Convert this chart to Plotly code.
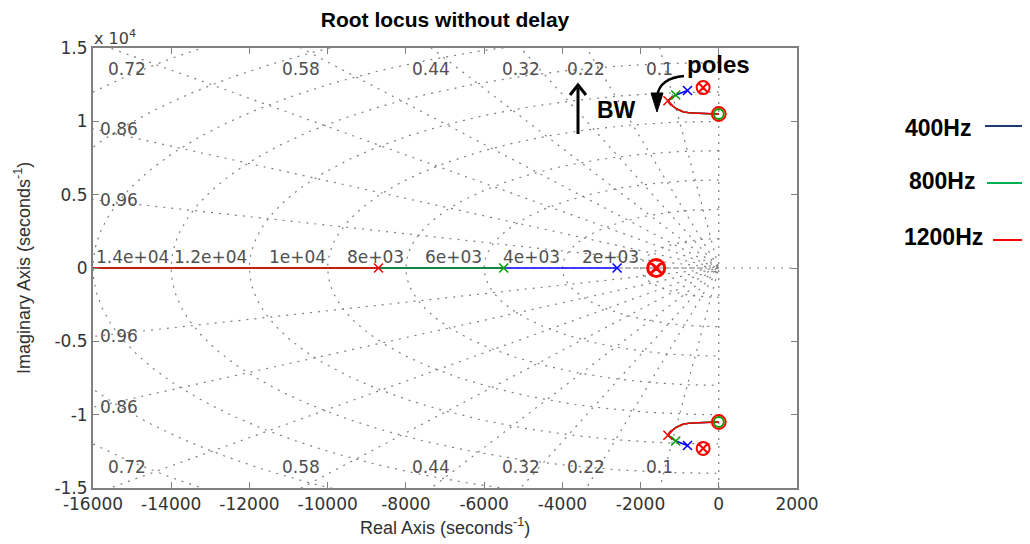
import numpy as np
import plotly.graph_objects as go

# ---------------- data ----------------
band_names = ["400Hz", "800Hz", "1200Hz"]
band_colors = ["#0000ff", "#00a000", "#ff0000"]
legend_colors = ["#1f3a73", "#00b050", "#ff0000"]

# closed-loop poles on the real axis (one per band)
real_cl_poles = [-2600, -5500, -8700]
real_locus_end = -16200

# closed-loop complex poles (upper half; lower half mirrored)
cplx_cl_re = [-800, -1100, -1300]
cplx_cl_im = [12100, 11800, 11400]

# shared tail of the complex branch (from the 1200Hz pole towards the zero)
branch_re = [-1300, -1250, -1070, -900, -680, -150, 0]
branch_im = [11400, 11180, 10840, 10640, 10560, 10500, 10500]

# open-loop poles and zeros
ol_pole_re = [-1600, -400, -400]
ol_pole_im = [0, 12300, -12300]
ol_zero_re = [0, 0]
ol_zero_im = [10500, -10500]

# s-plane grid
zeta_vals = [0.1, 0.22, 0.32, 0.44, 0.58, 0.72, 0.86, 0.96]
zeta_labels = ["0.1", "0.22", "0.32", "0.44", "0.58", "0.72", "0.86", "0.96"]
wn_vals = [2000, 4000, 6000, 8000, 10000, 12000, 14000, 16000, 18000, 20000]
wn_labels = ["2e+03", "4e+03", "6e+03", "8e+03", "1e+04", "1.2e+04", "1.4e+04"]

x_ticks = [-16000, -14000, -12000, -10000, -8000, -6000, -4000, -2000, 0, 2000]
x_ticktext = ["-16000", "-14000", "-12000", "-10000", "-8000", "-6000", "-4000", "-2000", "0", "2000"]
y_ticks = [-15000, -10000, -5000, 0, 5000, 10000, 15000]
y_ticktext = ["-1.5", "-1", "-0.5", "0", "0.5", "1", "1.5"]

XMIN, XMAX, YMIN, YMAX = -16000, 2000, -15000, 15000

# ---------------- layout constants ----------------
OFF = 8                      # page body margin of the html page
W, H = 1030 - OFF, 544 - OFF
PL, PR, PT, PB = 93, 797, 48, 488      # plot frame in page pixels
ML, MR, MT, MB = PL - OFF, (W + OFF) - PR, PT - OFF, (H + OFF) - PB
PW, PH = PR - PL, PB - PT
FONT = "Liberation Sans, Arial, sans-serif"
TFONT = "DejaVu Sans, sans-serif"
GRID_COL = "#7f7f7f"
GRID_DASH = "2px,6px"


def px2paper_x(px):
    return (px - PL) / PW


def px2paper_y(py):
    return (PB - py) / PH


def px2dx(px):
    return XMIN + (px - PL) / PW * (XMAX - XMIN)


def px2dy(py):
    return YMAX - (py - PT) / PH * (YMAX - YMIN)


fig = go.Figure()

# ---- grid: frequency circles
theta = np.linspace(np.pi / 2, 3 * np.pi / 2, 241)
for wn in wn_vals:
    fig.add_trace(go.Scatter(x=wn * np.cos(theta), y=wn * np.sin(theta), mode="lines",
                             line=dict(color=GRID_COL, width=1.2, dash=GRID_DASH),
                             hoverinfo="skip", showlegend=False))
# ---- grid: damping rays
R = 40000
for z in zeta_vals:
    s = np.sqrt(1 - z * z)
    fig.add_trace(go.Scatter(x=[-R * z, 0, -R * z], y=[R * s, 0, -R * s], mode="lines",
                             line=dict(color=GRID_COL, width=1.2, dash=GRID_DASH),
                             hoverinfo="skip", showlegend=False))
fig.add_trace(go.Scatter(x=[XMIN, XMAX], y=[0, 0], mode="lines",
                         line=dict(color=GRID_COL, width=1.2, dash=GRID_DASH),
                         hoverinfo="skip", showlegend=False))
fig.add_trace(go.Scatter(x=[0, 0], y=[YMIN, YMAX], mode="lines",
                         line=dict(color=GRID_COL, width=1.2, dash=GRID_DASH),
                         hoverinfo="skip", showlegend=False))
fig.add_trace(go.Scatter(x=[real_cl_poles[0], -300], y=[0, 0], mode="lines",
                         line=dict(color="#707070", width=1.2, dash="4px,4px"),
                         hoverinfo="skip", showlegend=False))

# ---- loci
for i, (name, col) in enumerate(zip(band_names, band_colors)):
    fig.add_trace(go.Scatter(x=[real_cl_poles[i], real_locus_end], y=[0, 0], mode="lines",
                             line=dict(color=col, width=1.5), name=name, showlegend=False))
    bx = cplx_cl_re[i:] + branch_re[1:]
    by = cplx_cl_im[i:] + branch_im[1:]
    for sgn in (1, -1):
        fig.add_trace(go.Scatter(x=bx, y=[sgn * v for v in by], mode="lines",
                                 line=dict(color=col, width=1.5), showlegend=False))
    fig.add_trace(go.Scatter(x=[real_cl_poles[i], cplx_cl_re[i], cplx_cl_re[i]],
                             y=[0, cplx_cl_im[i], -cplx_cl_im[i]], mode="markers",
                             marker=dict(symbol="x-thin-open", size=9, color=col,
                                         line=dict(width=1.5, color=col)),
                             showlegend=False))

# open-loop zeros (green under red)
fig.add_trace(go.Scatter(x=ol_zero_re, y=ol_zero_im, mode="markers",
                         marker=dict(symbol="circle-open", size=10, color="#00a000",
                                     line=dict(width=2, color="#00a000")), showlegend=False))
fig.add_trace(go.Scatter(x=ol_zero_re, y=ol_zero_im, mode="markers",
                         marker=dict(symbol="circle-open", size=14, color="#ff0000",
                                     line=dict(width=1.8, color="#ff0000")), showlegend=False))
# open-loop poles
fig.add_trace(go.Scatter(x=ol_pole_re[:1], y=ol_pole_im[:1], mode="markers",
                         marker=dict(symbol="circle-x-open", size=17, color="#ff0000",
                                     line=dict(width=3, color="#ff0000")), showlegend=False))
fig.add_trace(go.Scatter(x=ol_pole_re[1:], y=ol_pole_im[1:], mode="markers",
                         marker=dict(symbol="circle-x-open", size=13, color="#ff0000",
                                     line=dict(width=2, color="#ff0000")), showlegend=False))

annotations = []
shapes = []

# ---- damping labels
for z, lab in zip(zeta_vals, zeta_labels):
    s = np.sqrt(1 - z * z)
    xc = -YMAX * z / s
    if xc >= XMIN:
        xpos = max(xc, -15130)
        for sgn in (1, -1):
            annotations.append(dict(x=xpos, y=sgn * 13600, text=lab, showarrow=False,
                                    xanchor="center", yanchor="middle",
                                    font=dict(family=TFONT, size=17, color="#505050")))
    else:
        yc = -XMIN * s / z
        for sgn in (1, -1):
            annotations.append(dict(x=-15870, y=sgn * yc, text=lab, showarrow=False,
                                    xanchor="left", yanchor="middle",
                                    font=dict(family=TFONT, size=17, color="#505050")))

# ---- natural-frequency labels
for wn, lab in zip(wn_vals, wn_labels):
    annotations.append(dict(x=-wn, y=0, text=lab, showarrow=False, xanchor="right",
                            yanchor="middle", yshift=11,
                            font=dict(family=TFONT, size=17, color="#505050")))

# ---- x 10^4
annotations.append(dict(x=px2paper_x(92), y=px2paper_y(37), xref="paper", yref="paper",
                        text="x 10<sup>4</sup>", showarrow=False, xanchor="left",
                        yanchor="middle", font=dict(family=TFONT, size=16, color="#404040")))

# ---- axis titles
annotations.append(dict(x=0.5, y=px2paper_y(526), xref="paper", yref="paper",
                        text="Real Axis (seconds<sup>-1</sup>)", showarrow=False,
                        xanchor="center", yanchor="middle",
                        font=dict(family=FONT, size=18, color="#303030")))
annotations.append(dict(x=px2paper_x(22), y=0.5, xref="paper", yref="paper",
                        text="Imaginary Axis (seconds<sup>-1</sup>)", showarrow=False,
                        textangle=-90, xanchor="center", yanchor="middle",
                        font=dict(family=FONT, size=18, color="#303030")))

# ---- callouts
annotations.append(dict(x=px2dx(718), y=px2dy(64), text="<b>poles</b>", showarrow=False,
                        xanchor="center", yanchor="middle",
                        font=dict(family=FONT, size=24, color="black")))
annotations.append(dict(x=px2dx(616), y=px2dy(110), text="<b>BW</b>", showarrow=False,
                        xanchor="center", yanchor="middle",
                        font=dict(family=FONT, size=23, color="black")))
# straight BW arrow
shapes.append(dict(type="line", xref="x", yref="y", x0=px2dx(578), x1=px2dx(578),
                   y0=px2dy(134), y1=px2dy(88), line=dict(color="black", width=3)))
shapes.append(dict(type="path", xref="x", yref="y",
                   path="M {},{} L {},{} L {},{}".format(px2dx(570), px2dy(95), px2dx(578), px2dy(85),
                                                      px2dx(586), px2dy(95)),
                   line=dict(color="black", width=3)))
# curved "poles" arrow
shapes.append(dict(type="path", xref="x", yref="y",
                   path="M {},{} Q {},{} {},{}".format(px2dx(684), px2dy(76), px2dx(660), px2dy(78),
                                                     px2dx(657), px2dy(96)),
                   line=dict(color="black", width=2.5)))
shapes.append(dict(type="path", xref="x", yref="y",
                   path="M {},{} L {},{} L {},{} Z".format(px2dx(651), px2dy(93), px2dx(663), px2dy(93),
                                                        px2dx(657), px2dy(112)),
                   fillcolor="black", line=dict(color="black", width=1)))

# ---- legend (manual)
leg_text_right = [973, 977, 985]
leg_y = [128, 181, 237]
leg_line_x = [(985, 1028), (987, 1030), (993, 1030)]
leg_line_y = [126, 183, 240]
for i, name in enumerate(band_names):
    annotations.append(dict(x=px2paper_x(leg_text_right[i]), y=px2paper_y(leg_y[i]),
                            xref="paper", yref="paper", text="<b>" + name + "</b>",
                            showarrow=False, xanchor="right", yanchor="middle",
                            font=dict(family=FONT, size=23, color="black")))
    shapes.append(dict(type="line", xref="paper", yref="paper",
                       x0=px2paper_x(leg_line_x[i][0]), x1=px2paper_x(leg_line_x[i][1]),
                       y0=px2paper_y(leg_line_y[i]), y1=px2paper_y(leg_line_y[i]),
                       line=dict(color=legend_colors[i], width=2)))

fig.update_layout(
    width=W, height=H, margin=dict(l=ML, r=MR, t=MT, b=MB, autoexpand=False),
    paper_bgcolor="white", plot_bgcolor="white", showlegend=False,
    title=dict(text="<b>Root locus without delay</b>", x=px2paper_x(445), xref="paper",
               xanchor="center", y=1 - (20 - OFF) / H, yref="container", yanchor="middle",
               font=dict(family=FONT, size=21, color="black")),
    annotations=annotations, shapes=shapes,
)
fig.update_xaxes(range=[XMIN, XMAX], tickvals=x_ticks, ticktext=x_ticktext, ticks="inside",
                 ticklen=6, tickcolor="#808080", showline=True, linecolor="#808080", linewidth=2,
                 mirror="ticks", showgrid=False, zeroline=False, automargin=False,
                 tickfont=dict(family=TFONT, size=17, color="#333333"))
fig.update_yaxes(range=[YMIN, YMAX], tickvals=y_ticks, ticktext=y_ticktext, ticks="inside",
                 ticklen=6, tickcolor="#808080", showline=True, linecolor="#808080", linewidth=2,
                 mirror="ticks", showgrid=False, zeroline=False, automargin=False,
                 tickfont=dict(family=TFONT, size=17, color="#333333"))

fig.write_html("out.html")
